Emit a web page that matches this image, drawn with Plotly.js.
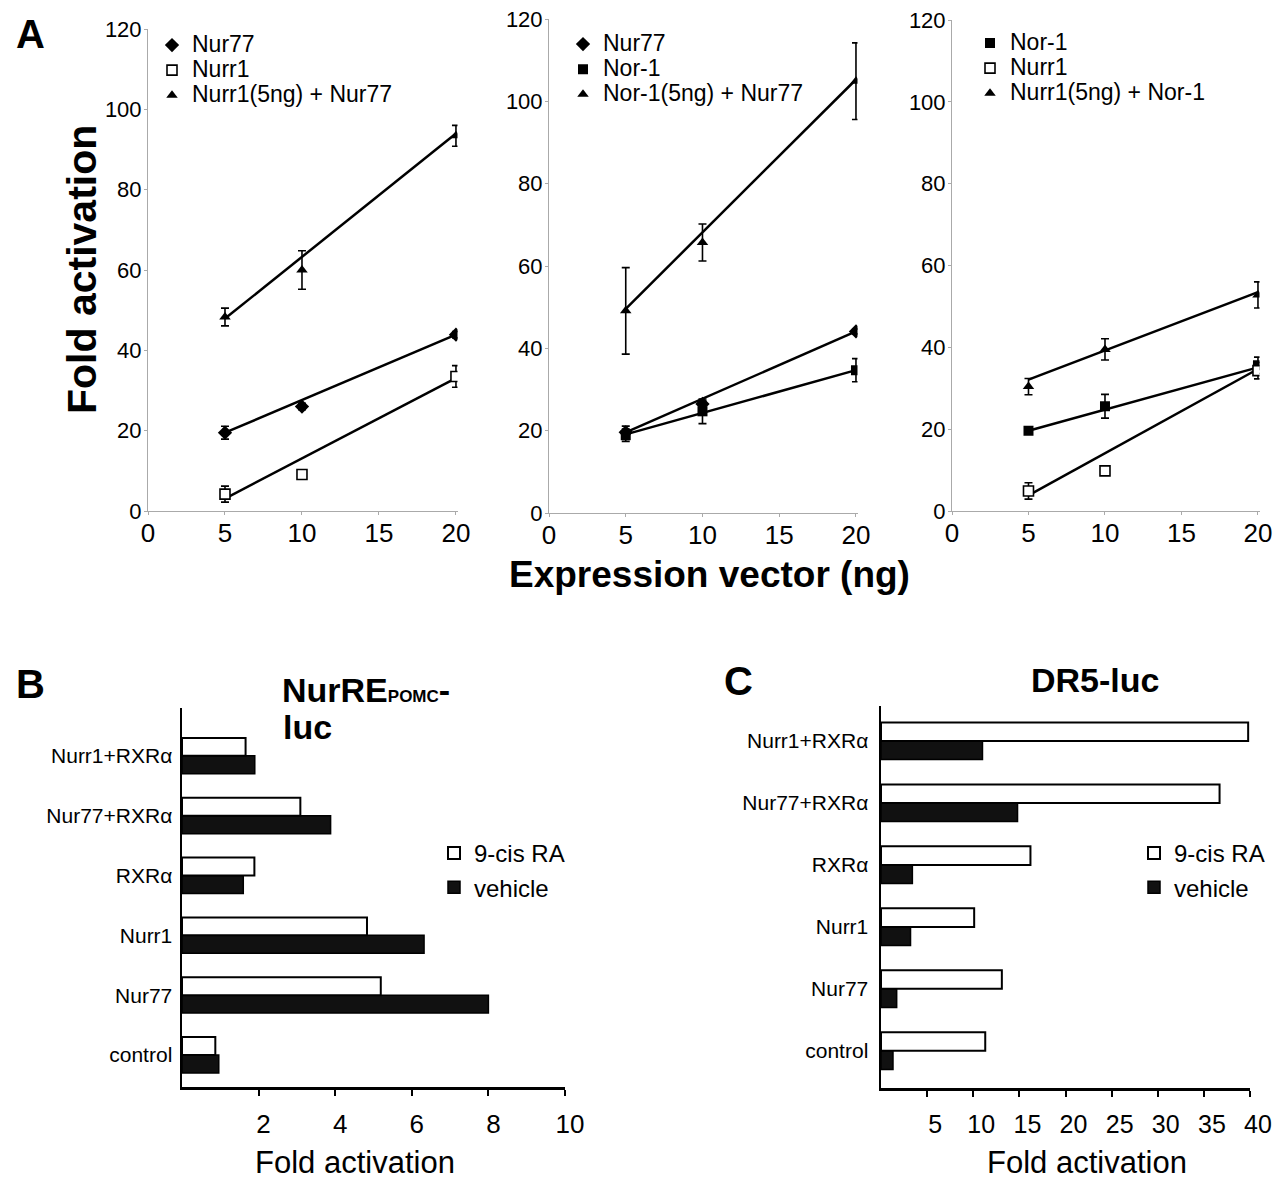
<!DOCTYPE html>
<html><head><meta charset="utf-8">
<script src="https://cdn.plot.ly/plotly-3.0.1.min.js"></script>
<style>html,body{margin:0;padding:0;background:#fff}#chart{width:1281px;height:1180px}</style>
</head><body><div id="chart"></div>
<script>
// ---------- Panel A data (fold activation vs expression vector, ng) ----------
const doses = [5, 10, 20];
const fitDoses = [5, 20];

// A1
const a1Nur77 = [19.5, 26.0, 43.9];
const a1Nur77Err = [1.6, 0.8, 0.8];
const a1Nurr1 = [4.2, 9.1, 33.5];
const a1Nurr1Err = [2.0, 0.7, 2.7];
const a1Combo = [48.3, 60.0, 93.4];
const a1ComboErr = [2.2, 4.8, 2.6];
const a1Nur77Fit = [19.5, 43.9];
const a1Nurr1Fit = [3.1, 33.1];
const a1ComboFit = [47.9, 94.0];

// A2
const a2Nur77 = [19.6, 26.5, 44.1];
const a2Nur77Err = [1.5, 0.8, 0.6];
const a2Nor1 = [18.9, 24.7, 34.7];
const a2Nor1Err = [1.5, 3.0, 2.8];
const a2Combo = [49.1, 65.7, 104.9];
const a2ComboErr = [10.5, 4.5, 9.3];
const a2Nur77Fit = [19.6, 44.1];
const a2Nor1Fit = [19.1, 34.7];
const a2ComboFit = [49.6, 105.3];

// A3
const a3Nor1 = [19.6, 25.6, 35.6];
const a3Nor1Err = [0.8, 2.9, 2.0];
const a3Nurr1 = [4.9, 9.8, 34.3];
const a3Nurr1Err = [2.0, 0.5, 2.0];
const a3Combo = [30.4, 39.5, 52.8];
const a3ComboErr = [2.0, 2.6, 3.2];
const a3Nor1Fit = [19.6, 35.1];
const a3Nurr1Fit = [3.8, 34.7];
const a3ComboFit = [32.1, 53.5];

// ---------- Panels B and C (bottom to top) ----------
const categories = ['control', 'Nur77', 'Nurr1', 'RXRα', 'Nur77+RXRα', 'Nurr1+RXRα'];
const bCisRA = [0.87, 5.19, 4.83, 1.89, 3.09, 1.66];
const bVehicle = [0.96, 8.0, 6.32, 1.6, 3.88, 1.9];
const cCisRA = [11.3, 13.1, 10.1, 16.2, 36.7, 39.8];
const cVehicle = [1.3, 1.7, 3.2, 3.4, 14.8, 11.0];

const aTicksX = [0, 5, 10, 15, 20];
const aTicksY = [0, 20, 40, 60, 80, 100, 120];
const bTicks = [2, 4, 6, 8, 10];
const cTicks = [5, 10, 15, 20, 25, 30, 35, 40];

// ---------- helpers ----------
const FONT = 'Liberation Sans, Arial, Helvetica, sans-serif';
const W = 1281, H = 1180;
const px = v => v / W;
const py = v => 1 - v / H;

function fit(xa, ya, vals) {
  return {type: 'scatter', mode: 'lines', x: fitDoses, y: vals, xaxis: xa, yaxis: ya,
          line: {color: '#000', width: 2.5}, showlegend: false, hoverinfo: 'skip'};
}
function pts(xa, ya, vals, errs, name, symbol, open, legend, rank) {
  return {type: 'scatter', mode: 'markers', x: doses, y: vals, xaxis: xa, yaxis: ya,
          name: '<span style="font-size:23px">' + name + '</span>',
          legend: legend, legendrank: rank,
          marker: {symbol: symbol, size: symbol === 'diamond' ? 11 : 10,
                   color: open ? '#fff' : '#000', line: {color: '#000', width: open ? 1.6 : 0}},
          error_y: {type: 'data', array: errs, visible: true, color: '#000', thickness: 1.6, width: 4}};
}

const traces = [
  fit('x', 'y', a1Nur77Fit), fit('x', 'y', a1Nurr1Fit), fit('x', 'y', a1ComboFit),
  pts('x', 'y', a1Nur77, a1Nur77Err, 'Nur77', 'diamond', false, 'legend', 1),
  pts('x', 'y', a1Nurr1, a1Nurr1Err, 'Nurr1', 'square', true, 'legend', 2),
  pts('x', 'y', a1Combo, a1ComboErr, 'Nurr1(5ng) + Nur77', 'triangle-up', false, 'legend', 3),

  fit('x2', 'y2', a2Nur77Fit), fit('x2', 'y2', a2Nor1Fit), fit('x2', 'y2', a2ComboFit),
  pts('x2', 'y2', a2Nur77, a2Nur77Err, 'Nur77', 'diamond', false, 'legend2', 1),
  pts('x2', 'y2', a2Nor1, a2Nor1Err, 'Nor-1', 'square', false, 'legend2', 2),
  pts('x2', 'y2', a2Combo, a2ComboErr, 'Nor-1(5ng) + Nur77', 'triangle-up', false, 'legend2', 3),

  fit('x3', 'y3', a3Nor1Fit), fit('x3', 'y3', a3Nurr1Fit), fit('x3', 'y3', a3ComboFit),
  pts('x3', 'y3', a3Nor1, a3Nor1Err, 'Nor-1', 'square', false, 'legend3', 1),
  pts('x3', 'y3', a3Nurr1, a3Nurr1Err, 'Nurr1', 'square', true, 'legend3', 2),
  pts('x3', 'y3', a3Combo, a3ComboErr, 'Nurr1(5ng) + Nor-1', 'triangle-up', false, 'legend3', 3),

  {type: 'bar', orientation: 'h', x: bVehicle, y: categories, xaxis: 'x4', yaxis: 'y4',
   name: 'vehicle', legend: 'legend4', legendrank: 2,
   marker: {color: '#111', line: {color: '#000', width: 1.5}}},
  {type: 'bar', orientation: 'h', x: bCisRA, y: categories, xaxis: 'x4', yaxis: 'y4',
   name: '9-cis RA', legend: 'legend4', legendrank: 1,
   marker: {color: '#fff', line: {color: '#000', width: 2}}},
  {type: 'bar', orientation: 'h', x: cVehicle, y: categories, xaxis: 'x5', yaxis: 'y5',
   name: 'vehicle', legend: 'legend5', legendrank: 2,
   marker: {color: '#111', line: {color: '#000', width: 1.5}}},
  {type: 'bar', orientation: 'h', x: cCisRA, y: categories, xaxis: 'x5', yaxis: 'y5',
   name: '9-cis RA', legend: 'legend5', legendrank: 1,
   marker: {color: '#fff', line: {color: '#000', width: 2}}}
];

function aX(d0, d1, anchor) {
  return {domain: [px(d0), px(d1)], anchor: anchor, range: [0, 20.1], tickvals: aTicksX,
          showline: true, linecolor: '#aaa', linewidth: 1, ticks: 'outside', ticklen: 3,
          tickcolor: '#aaa', showgrid: false, zeroline: false, ticklabelstandoff: -4,
          tickfont: {size: 26, color: '#000', family: FONT}, fixedrange: true};
}
function aY(top, bottom, anchor) {
  return {domain: [py(bottom), py(top)], anchor: anchor, range: [0, 120], tickvals: aTicksY,
          showline: true, linecolor: '#aaa', linewidth: 1, ticks: 'outside', ticklen: 3,
          tickcolor: '#aaa', showgrid: false, zeroline: false, ticklabelstandoff: -2,
          tickfont: {size: 22, color: '#000', family: FONT}, fixedrange: true};
}
function legA(x, top) {
  return {x: px(x), y: py(top), xanchor: 'left', yanchor: 'top', bgcolor: 'rgba(0,0,0,0)',
          borderwidth: 0, font: {size: 17, color: '#000', family: FONT}, itemclick: false};
}
function legBar(x, top) {
  return {x: px(x), y: py(top), xanchor: 'left', yanchor: 'top', bgcolor: 'rgba(0,0,0,0)',
          borderwidth: 0, font: {size: 24, color: '#000', family: FONT}, itemclick: false};
}
function ann(text, x, y, size, bold, extra) {
  return Object.assign({xref: 'paper', yref: 'paper', x: px(x), y: py(y), text: bold ? '<b>' + text + '</b>' : text,
          showarrow: false, xanchor: 'center', yanchor: 'middle',
          font: {size: size, color: '#000', family: FONT}}, extra || {});
}

const layout = {
  width: W, height: H, margin: {l: 0, r: 0, t: 0, b: 0},
  paper_bgcolor: '#fff', plot_bgcolor: 'rgba(0,0,0,0)',
  font: {family: FONT, color: '#000'},
  barmode: 'group', bargap: 0.4, bargroupgap: 0,
  hovermode: false,
  xaxis: aX(148, 457.5, 'y'), yaxis: aY(29, 511, 'x'),
  xaxis2: aX(549, 857.5, 'y2'), yaxis2: aY(19, 513, 'x2'),
  xaxis3: aX(952, 1259.5, 'y3'), yaxis3: aY(20, 511, 'x3'),
  xaxis4: {domain: [px(182), px(565)], anchor: 'y4', range: [0, 10], tickvals: bTicks,
           showline: true, linecolor: '#000', linewidth: 2.5, ticks: 'outside', ticklen: 6, tickwidth: 2,
           tickcolor: '#000', showgrid: false, zeroline: false, ticklabelstandoff: 6, ticklabelshift: 5,
           tickfont: {size: 26, color: '#000', family: FONT}, fixedrange: true},
  yaxis4: {domain: [py(1087), py(708)], anchor: 'x4', type: 'category', categoryorder: 'array',
           categoryarray: categories, range: [-0.535, 5.8], showline: true, linecolor: '#000', linewidth: 2.5,
           ticks: '', showgrid: false, zeroline: false, ticklabelstandoff: 3,
           tickfont: {size: 21, color: '#000', family: FONT}, fixedrange: true},
  xaxis5: {domain: [px(881), px(1250)], anchor: 'y5', range: [0, 40], tickvals: cTicks,
           showline: true, linecolor: '#000', linewidth: 2.5, ticks: 'outside', ticklen: 6, tickwidth: 2,
           tickcolor: '#000', showgrid: false, zeroline: false, ticklabelstandoff: 6, ticklabelshift: 8,
           tickfont: {size: 25, color: '#000', family: FONT}, fixedrange: true},
  yaxis5: {domain: [py(1088), py(706)], anchor: 'x5', type: 'category', categoryorder: 'array',
           categoryarray: categories, range: [-0.6, 5.565], showline: true, linecolor: '#000', linewidth: 2.5,
           ticks: '', showgrid: false, zeroline: false, ticklabelstandoff: 6,
           tickfont: {size: 21, color: '#000', family: FONT}, fixedrange: true},
  legend: legA(152, 27.5),
  legend2: legA(563, 26.5),
  legend3: legA(970, 25.5),
  legend4: legBar(434, 831),
  legend5: legBar(1134, 831),
  annotations: [
    ann('A', 30, 34, 40, true),
    ann('Fold activation', 82, 270, 41, true, {textangle: -90}),
    ann('Expression vector (ng)', 710, 574, 37, true),
    ann('B', 30, 684, 40, true),
    ann('NurRE<span style="font-size:17px">POMC</span>-', 280, 690, 34, true, {xanchor: 'left'}),
    ann('luc', 281, 727, 34, true, {xanchor: 'left'}),
    ann('C', 738, 681, 40, true),
    ann('DR5-luc', 1095, 680, 34, true),
    ann('Fold activation', 355, 1162, 31, false),
    ann('Fold activation', 1087, 1162, 31, false)
  ]
};

Plotly.newPlot('chart', traces, layout, {displayModeBar: false, staticPlot: true});
</script>
</body></html>
